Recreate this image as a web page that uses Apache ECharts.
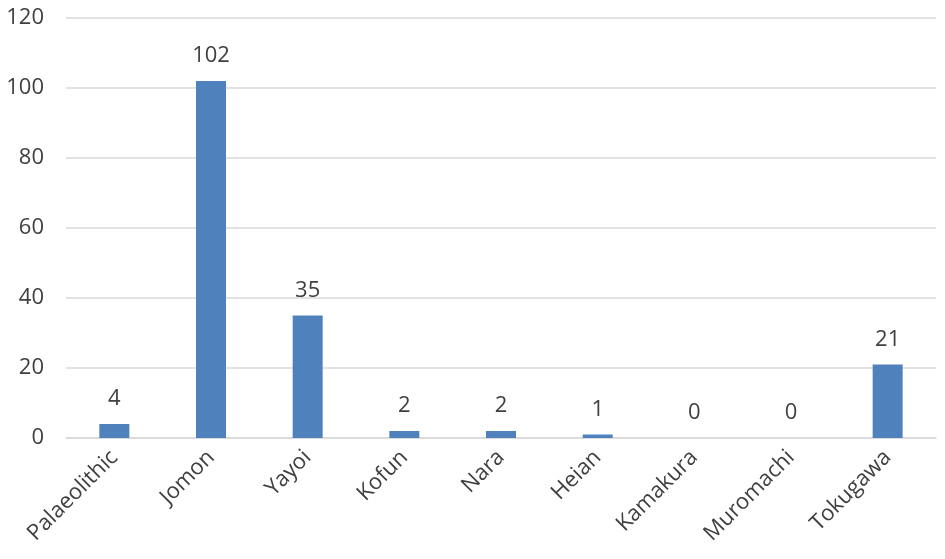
<!DOCTYPE html>
<html>
<head>
<meta charset="utf-8">
<script src="https://cdn.jsdelivr.net/npm/echarts@6/dist/echarts.min.js"></script>
<style>
  html, body { margin: 0; padding: 0; background: #fff; }
  #chart { width: 945px; height: 559px; }
</style>
</head>
<body>
<div id="chart"></div>
<script>
const periods = ["Palaeolithic", "Jomon", "Yayoi", "Kofun", "Nara", "Heian", "Kamakura", "Muromachi", "Tokugawa"];
const counts = [4, 102, 35, 2, 2, 1, 0, 0, 21];
const yTicks = { min: 0, max: 120, interval: 20 };

const chart = echarts.init(document.getElementById("chart"));
const fontFamily = "'Open Sans', 'Liberation Sans', sans-serif";

chart.setOption({
  animation: false,
  grid: { left: 66, right: 9, top: 18, bottom: 121 },
  xAxis: {
    type: "category",
    data: periods,
    axisLine: { lineStyle: { color: "#d9d9d9", width: 1.5 } },
    axisTick: { show: false },
    axisLabel: {
      rotate: 45,
      margin: 16,
      interval: 0,
      color: "#404040",
      fontSize: 22,
      fontFamily: fontFamily
    }
  },
  yAxis: {
    type: "value",
    min: yTicks.min,
    max: yTicks.max,
    interval: yTicks.interval,
    axisLine: { show: false },
    axisTick: { show: false },
    splitLine: { lineStyle: { color: "#d9d9d9", width: 1.5 } },
    axisLabel: {
      margin: 22,
      color: "#404040",
      fontSize: 22,
      fontFamily: fontFamily
    }
  },
  series: [
    {
      type: "bar",
      data: counts,
      barWidth: 30,
      itemStyle: { color: "#4f81bd" },
      label: {
        show: true,
        position: "top",
        distance: 14,
        color: "#404040",
        fontSize: 22,
        fontFamily: fontFamily
      }
    }
  ]
});
</script>
</body>
</html>
